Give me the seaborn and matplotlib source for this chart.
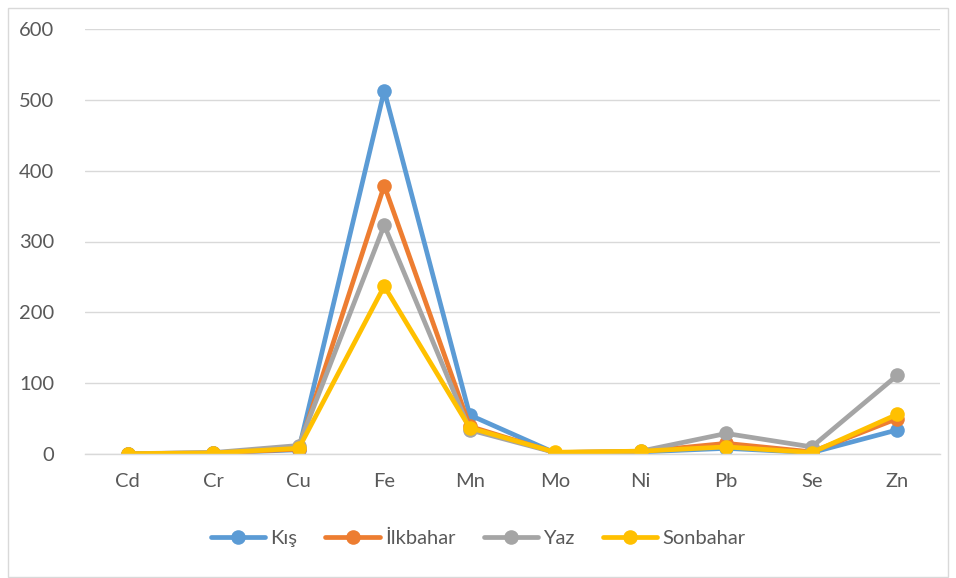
import matplotlib
matplotlib.use("Agg")
import matplotlib.pyplot as plt
import seaborn as sns
import pandas as pd
from matplotlib.patches import Rectangle

elements = ["Cd", "Cr", "Cu", "Fe", "Mn", "Mo", "Ni", "Pb", "Se", "Zn"]
kis = [0.5, 1.5, 6, 513, 55, 1.5, 3, 8, 2, 34]
ilkbahar = [0.5, 1.5, 7, 379, 39, 2, 3.5, 15, 3, 50]
yaz = [0.5, 2, 12, 323, 34, 2, 4, 29, 10, 111]
sonbahar = [0.5, 1.5, 8, 237, 37, 2.5, 4, 10, 2, 56]
seasons = ["Kış", "İlkbahar", "Yaz", "Sonbahar"]
colors = ["#5B9BD5", "#ED7D31", "#A5A5A5", "#FFC000"]
yticks = [0, 100, 200, 300, 400, 500, 600]

rows = []
for s, vals in zip(seasons, [kis, ilkbahar, yaz, sonbahar]):
    for e, v in zip(elements, vals):
        rows.append({"Element": e, "Değer": v, "Mevsim": s})
df = pd.DataFrame(rows)

sns.set_theme(style="white")
plt.rcParams["font.family"] = ["Lato", "DejaVu Sans"]

fig = plt.figure(figsize=(9.56, 5.78), dpi=100)
ax = fig.add_axes([85/956, 1-454/578, (940-85)/956, (454-29)/578])

sns.lineplot(data=df, x="Element", y="Değer", hue="Mevsim", hue_order=seasons,
             palette=colors, marker="o", markersize=10.5, markeredgewidth=0,
             linewidth=3.4, sort=False, ax=ax, legend=True)

ax.set_xlim(-0.5, 9.5)
ax.set_ylim(0, 600)
ax.set_yticks(yticks)
ax.set_yticklabels([str(t) for t in yticks])
ax.grid(axis="y", color="#D9D9D9", linewidth=1)
ax.set_axisbelow(True)
for sp in ["top", "right", "left"]:
    ax.spines[sp].set_visible(False)
ax.spines["bottom"].set_color("#D9D9D9")
ax.spines["bottom"].set_linewidth(1)
ax.tick_params(axis="both", length=0, labelsize=14.5, labelcolor="#595959", pad=14)
ax.tick_params(axis="y", pad=22)
ax.set_xlabel("")
ax.set_ylabel("")

handles, labels = ax.get_legend_handles_labels()
ax.legend_.remove()
fig.legend(handles, labels, loc="center", bbox_to_anchor=(0.5, 1-538/578),
           ncol=4, frameon=False, fontsize=14.5, handlelength=2.7,
           columnspacing=1.4, handletextpad=0.25, labelcolor="#595959")

fig.patches.append(Rectangle((8/956, 1-577/578), 940/956, 569/578,
                             transform=fig.transFigure, fill=False,
                             edgecolor="#D9D9D9", linewidth=1))

fig.savefig("out.png", dpi=100)
